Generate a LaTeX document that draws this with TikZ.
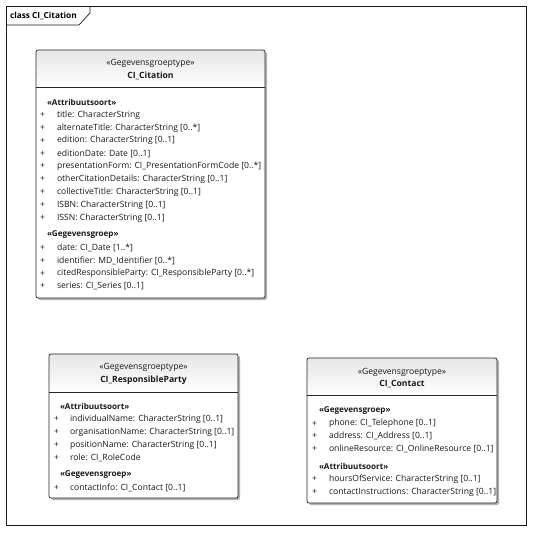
\documentclass[tikz,border=0pt]{standalone}
\usepackage{fontspec}
\setmainfont{Open Sans}
\begin{document}
\begin{tikzpicture}[x=1pt,y=-1pt,
  every node/.style={inner sep=0pt, outer sep=0pt},
  txt/.style={font=\fontsize{8.6}{10}\selectfont, text=black!90, anchor=west},
  sect/.style={font=\fontsize{8.1}{10}\selectfont\bfseries, text=black!90, anchor=west},
  hdr/.style={font=\fontsize{8.6}{10}\selectfont, text=black!90, anchor=center},
  hdrbold/.style={font=\fontsize{8.6}{10}\selectfont\bfseries, text=black!90, anchor=center},
  outline/.style={draw=black!85, line width=0.7pt, rounded corners=2pt},
  shadowbox/.style={fill=black!30, rounded corners=2pt}]
\useasboundingbox (0,0) rectangle (533,533);
\fill[white] (0,0) rectangle (533,533);

% diagram frame with its name tab
\draw[line width=0.8pt, black!90] (6,6) rectangle (526,525);
\draw[line width=0.7pt, black!90] (6,25) -- (79,25) -- (90,13) -- (90,6);
\node[font=\fontsize{8.3}{10}\selectfont\bfseries, anchor=west] (frametitle) at (10,16) {class CI\_Citation};

% class box: #1 name, #2-#5 corners, #6 y of the compartment line
\newcommand\umlclass[6]{%
  \fill[shadowbox] (#2+2,#3+2) rectangle (#4+2,#5+2);
  \node[fill=white, rounded corners=2pt, anchor=north west,
        minimum width={#4-#2}, minimum height={#5-#3}] (#1) at (#2,#3) {};
  \begin{scope}
    \clip[rounded corners=2pt] (#2,#3) rectangle (#4,#5);
    \shade[top color=black!10, bottom color=white] (#2,#3) rectangle (#4,#6);
  \end{scope}
  \draw[outline] (#2,#3) rectangle (#4,#5);
  \draw[line width=0.7pt, black!85] (#2,#6) -- (#4,#6);
}

% ---------- CI_Citation ----------
\umlclass{cit}{36}{50}{265}{298}{87}
\node[hdr] (cit-st) at (150.5,63) {«Gegevensgroeptype»};
\node[hdrbold] (cit-nm) at (150.5,76) {CI\_Citation};
\node[sect] (cit-s1) at (47,102) {«Attribuutsoort»};
\foreach \t [count=\i] in {{title: CharacterString},
  {alternateTitle: CharacterString [0..*]},
  {edition: CharacterString [0..1]},
  {editionDate: Date [0..1]},
  {presentationForm: CI\_PresentationFormCode [0..*]},
  {otherCitationDetails: CharacterString [0..1]},
  {collectiveTitle: CharacterString [0..1]},
  {ISBN: CharacterString [0..1]},
  {ISSN: CharacterString [0..1]}}{
  \node[txt] (cit-p\i) at (40,115+12.85*\i-12.85) {+};
  \node[txt] (cit-a\i) at (57,115+12.85*\i-12.85) {\t};
}
\node[sect] (cit-s2) at (47,235) {«Gegevensgroep»};
\foreach \t [count=\i] in {{date: CI\_Date [1..*]},
  {identifier: MD\_Identifier [0..*]},
  {citedResponsibleParty: CI\_ResponsibleParty [0..*]},
  {series: CI\_Series [0..1]}}{
  \node[txt] (cit-q\i) at (40,248+12.75*\i-12.75) {+};
  \node[txt] (cit-g\i) at (57,248+12.75*\i-12.75) {\t};
}

% ---------- CI_ResponsibleParty ----------
\umlclass{rp}{49}{354}{238}{498}{392}
\node[hdr] (rp-st) at (143.5,367) {«Gegevensgroeptype»};
\node[hdrbold] (rp-nm) at (143.5,380) {CI\_ResponsibleParty};
\node[sect] (rp-s1) at (60,406) {«Attribuutsoort»};
\foreach \t [count=\i] in {{individualName: CharacterString [0..1]},
  {organisationName: CharacterString [0..1]},
  {positionName: CharacterString [0..1]},
  {role: CI\_RoleCode}}{
  \node[txt] (rp-p\i) at (54,419+12.9*\i-12.9) {+};
  \node[txt] (rp-a\i) at (70,419+12.9*\i-12.9) {\t};
}
\node[sect] (rp-s2) at (60,475) {«Gegevensgroep»};
\node[txt] (rp-q1) at (54,487.5) {+};
\node[txt] (rp-g1) at (70,487.5) {contactInfo: CI\_Contact [0..1]};

% ---------- CI_Contact ----------
\umlclass{ct}{307}{358}{497}{503}{395}
\node[hdr] (ct-st) at (402,372) {«Gegevensgroeptype»};
\node[hdrbold] (ct-nm) at (402,384.5) {CI\_Contact};
\node[sect] (ct-s1) at (319,411) {«Gegevensgroep»};
\foreach \t [count=\i] in {{phone: CI\_Telephone [0..1]},
  {address: CI\_Address [0..1]},
  {onlineResource: CI\_OnlineResource [0..1]}}{
  \node[txt] (ct-p\i) at (312,423.5+12.9*\i-12.9) {+};
  \node[txt] (ct-a\i) at (329,423.5+12.9*\i-12.9) {\t};
}
\node[sect] (ct-s2) at (319,466) {«Attribuutsoort»};
\foreach \t [count=\i] in {{hoursOfService: CharacterString [0..1]},
  {contactInstructions: CharacterString [0..1]}}{
  \node[txt] (ct-q\i) at (312,479+12.9*\i-12.9) {+};
  \node[txt] (ct-g\i) at (329,479+12.9*\i-12.9) {\t};
}
\end{tikzpicture}
\end{document}
